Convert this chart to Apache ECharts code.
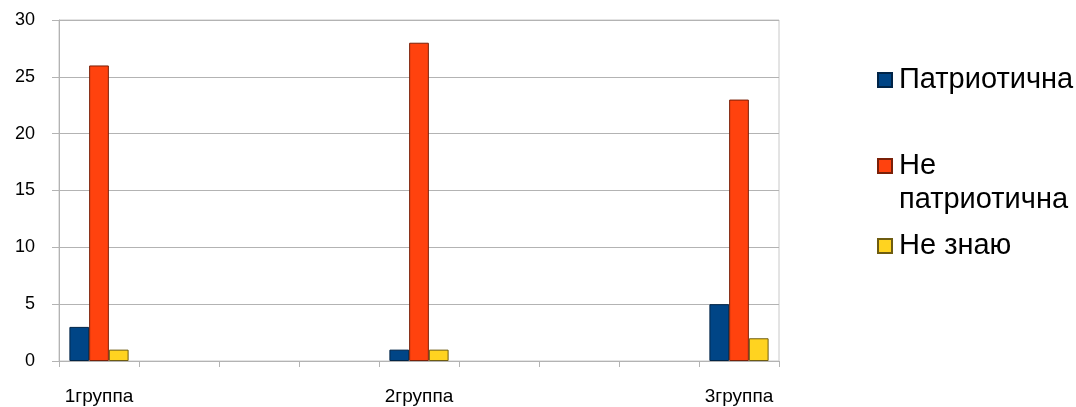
<!DOCTYPE html>
<html>
<head>
<meta charset="utf-8">
<script src="https://cdn.jsdelivr.net/npm/echarts@6/dist/echarts.min.js"></script>
<style>
html,body{margin:0;padding:0;background:#fff;}
#chart{width:1076px;height:407px;}
</style>
</head>
<body>
<div id="chart"></div>
<script>
const categories = ['1группа', '', '', '', '2группа', '', '', '', '3группа'];
const seriesNames = ['Патриотична', 'Не патриотична', 'Не знаю'];
const patriotic = [3, null, null, null, 1, null, null, null, 5];
const notPatriotic = [26, null, null, null, 28, null, null, null, 23];
const dontKnow = [1, null, null, null, 1, null, null, null, 2];
const yTicks = { min: 0, max: 30, interval: 5 };

const colors = ['#004586', '#ff420e', '#ffd320'];
const borders = ['#002447', '#7a2008', '#6e5c10'];
const FONT = '"Liberation Sans", Arial, sans-serif';
const LF = 29, LH = 34;

const chart = echarts.init(document.getElementById('chart'));
const values = [patriotic, notPatriotic, dontKnow];

function legendItem(i, top) {
  return {
    orient: 'vertical', left: 877, top: top, padding: 0,
    itemWidth: 14, itemHeight: 14, itemGap: 0,
    icon: 'rect',
    data: [seriesNames[i]],
    formatter: function (n) { return n === 'Не патриотична' ? '\nНе\nпатриотична' : n; },
    textStyle: { fontSize: LF, lineHeight: LH, fontFamily: FONT, color: '#000', padding: [0, 0, 0, 2] }
  };
}

chart.setOption({
  animation: false,
  backgroundColor: '#fff',
  grid: { left: 59, right: 297, top: 20, bottom: 46, show: true, borderColor: '#c8c8c8', borderWidth: 1, backgroundColor: 'transparent' },
  legend: [
    legendItem(0, 80 - LH / 2),
    legendItem(1, 166 - 1.5 * LH),
    legendItem(2, 246 - LH / 2)
  ],
  xAxis: {
    type: 'category',
    data: categories,
    axisLine: { lineStyle: { color: '#b3b3b3', width: 1 } },
    axisTick: { show: true, interval: 0, length: 6, lineStyle: { color: '#b3b3b3' } },
    axisLabel: { interval: 0, margin: 26, fontSize: 19, fontFamily: FONT, color: '#000' },
    splitLine: { show: false }
  },
  yAxis: {
    type: 'value',
    min: yTicks.min, max: yTicks.max, interval: yTicks.interval,
    axisLine: { show: true, lineStyle: { color: '#b3b3b3', width: 1 } },
    axisTick: { show: true, length: 7, lineStyle: { color: '#b3b3b3' } },
    axisLabel: { margin: 24, fontSize: 18, fontFamily: FONT, color: '#000' },
    splitLine: { show: true, lineStyle: { color: '#b3b3b3', width: 1 } }
  },
  series: seriesNames.map(function (n, i) {
    return {
      name: n, type: 'bar', data: values[i],
      barGap: '0%', barCategoryGap: '26%',
      itemStyle: { color: colors[i], borderColor: borders[i], borderWidth: 1 }
    };
  })
});
</script>
</body>
</html>
